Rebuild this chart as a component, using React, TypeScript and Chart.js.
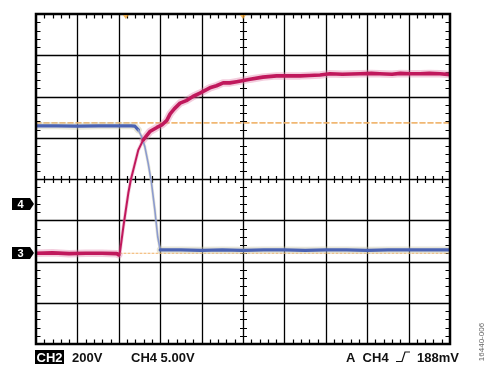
import React, { useEffect, useRef } from "react";
import { Chart, registerables } from "chart.js";
Chart.register(...registerables);

// Axis extents in scope divisions
const X_DIVS = 10;
const Y_DIVS = 8;
const MINOR_PER_DIV = 5;

// Red trace (CH3)
const redX = [0, 0.4, 0.8, 1.2, 1.6, 1.95, 2.0, 2.03, 2.11, 2.17, 2.23, 2.29, 2.37, 2.47, 2.59, 2.75, 2.92, 3.04, 3.16, 3.24, 3.34, 3.48, 3.63, 3.79, 3.96, 4.2, 4.36, 4.52, 4.68, 4.85, 5.17, 5.48, 5.81, 6.06, 6.38, 6.6, 6.86, 7.1, 7.4, 7.83, 8.1, 8.3, 8.6, 8.8, 9.05, 9.28, 9.5, 9.76, 10];
const redY = [2.2, 2.21, 2.19, 2.2, 2.2, 2.19, 2.16, 2.24, 2.84, 3.25, 3.66, 3.98, 4.3, 4.7, 4.95, 5.15, 5.25, 5.31, 5.42, 5.58, 5.7, 5.84, 5.9, 6.0, 6.08, 6.21, 6.26, 6.33, 6.33, 6.36, 6.42, 6.47, 6.5, 6.5, 6.5, 6.51, 6.52, 6.55, 6.54, 6.55, 6.56, 6.55, 6.54, 6.56, 6.55, 6.55, 6.56, 6.55, 6.53];

// Blue trace (CH4)
const blueX = [0, 0.5, 1.0, 1.5, 2.0, 2.3, 2.39, 2.47, 2.55, 2.63, 2.71, 2.79, 2.87, 2.94, 3.0, 3.5, 4.0, 4.5, 5.0, 5.5, 6.0, 6.5, 7.0, 7.5, 8.0, 8.5, 9.0, 9.5, 10];
const blueY = [5.29, 5.29, 5.28, 5.29, 5.29, 5.29, 5.28, 5.19, 5.03, 4.78, 4.38, 3.9, 3.25, 2.6, 2.28, 2.28, 2.27, 2.28, 2.27, 2.28, 2.28, 2.27, 2.28, 2.28, 2.27, 2.28, 2.28, 2.28, 2.28];

// Reference (cursor) levels
const refUpperY = 5.36;
const refLowerY = 2.2;

// Channel ground markers on the left
const markerLabels = ["4", "3"];
const markerY = [3.39, 2.2];

// Trigger position markers at top
const triggerX = [2.17, 5.0];

// Footer texts
const footerCh = "CH2";
const footerCh2Scale = "200V";
const footerCh4Scale = "CH4 5.00V";
const footerTrigA = "A  CH4";
const footerTrigLevel = "188mV";
const figureId = "16440-006";

const toPts = (xs: number[], ys: number[]) => xs.map((x, i) => ({ x, y: ys[i] }));
const steep = (ctx: any) => {
  const dx = Math.abs(ctx.p1.parsed.x - ctx.p0.parsed.x);
  const dy = Math.abs(ctx.p1.parsed.y - ctx.p0.parsed.y);
  return dx === 0 || dy / dx > 2;
};

const scopePlugin = {
  id: "scope",
  beforeDatasetsDraw(chart: any) {
    const { ctx, scales } = chart;
    const xs = scales.x, ys = scales.y;
    const L = xs.getPixelForValue(0), R = xs.getPixelForValue(X_DIVS);
    const T = ys.getPixelForValue(Y_DIVS), B = ys.getPixelForValue(0);
    ctx.save();
    ctx.strokeStyle = "#000";
    ctx.lineWidth = 1.3;
    ctx.beginPath();
    for (let i = 1; i < X_DIVS; i++) {
      const p = Math.round(xs.getPixelForValue(i)) + 0.5;
      ctx.moveTo(p, T); ctx.lineTo(p, B);
    }
    for (let j = 1; j < Y_DIVS; j++) {
      const p = Math.round(ys.getPixelForValue(j)) + 0.5;
      ctx.moveTo(L, p); ctx.lineTo(R, p);
    }
    ctx.stroke();
    // minor ticks
    ctx.lineWidth = 1.2;
    ctx.beginPath();
    const tl = 4.5;
    const cx = Math.round(xs.getPixelForValue(X_DIVS / 2)) + 0.5;
    const cy = Math.round(ys.getPixelForValue(Y_DIVS / 2)) + 0.5;
    for (let k = 1; k < X_DIVS * MINOR_PER_DIV; k++) {
      if (k % MINOR_PER_DIV === 0) continue;
      const p = Math.round(xs.getPixelForValue(k / MINOR_PER_DIV)) + 0.5;
      ctx.moveTo(p, T); ctx.lineTo(p, T + tl);
      ctx.moveTo(p, B); ctx.lineTo(p, B - tl);
      ctx.moveTo(p, cy - 3.5); ctx.lineTo(p, cy + 3.5);
    }
    for (let k = 1; k < Y_DIVS * MINOR_PER_DIV; k++) {
      if (k % MINOR_PER_DIV === 0) continue;
      const p = Math.round(ys.getPixelForValue(k / MINOR_PER_DIV)) + 0.5;
      ctx.moveTo(L, p); ctx.lineTo(L + tl, p);
      ctx.moveTo(R, p); ctx.lineTo(R - tl, p);
      ctx.moveTo(cx - 3.5, p); ctx.lineTo(cx + 3.5, p);
    }
    ctx.stroke();
    ctx.restore();
  },
  afterDatasetsDraw(chart: any) {
    const { ctx, scales } = chart;
    const xs = scales.x, ys = scales.y;
    const L = xs.getPixelForValue(0), R = xs.getPixelForValue(X_DIVS);
    const T = ys.getPixelForValue(Y_DIVS), B = ys.getPixelForValue(0);
    ctx.save();
    // border
    ctx.strokeStyle = "#000";
    ctx.lineWidth = 2.5;
    ctx.strokeRect(L, T, R - L, B - T);
    // trigger markers
    ctx.fillStyle = "rgba(240,160,40,0.75)";
    triggerX.forEach((v) => {
      const p = xs.getPixelForValue(v);
      ctx.beginPath();
      ctx.moveTo(p - 3, T + 1);
      ctx.lineTo(p + 3, T + 1);
      ctx.lineTo(p, T + 5);
      ctx.closePath();
      ctx.fill();
    });
    // channel markers
    markerLabels.forEach((lab, i) => {
      const p = Math.round(ys.getPixelForValue(markerY[i]));
      ctx.fillStyle = "#000";
      ctx.beginPath();
      ctx.moveTo(12, p - 6);
      ctx.lineTo(30, p - 6);
      ctx.lineTo(34, p);
      ctx.lineTo(30, p + 6);
      ctx.lineTo(12, p + 6);
      ctx.closePath();
      ctx.fill();
      ctx.fillStyle = "#fff";
      ctx.font = "bold 11px 'Liberation Sans', Arial, sans-serif";
      ctx.textAlign = "center";
      ctx.textBaseline = "middle";
      ctx.fillText(lab, 20.5, p + 0.5);
    });
    // footer
    const by = 362;
    ctx.font = "bold 13px 'Liberation Sans', Arial, sans-serif";
    ctx.textBaseline = "alphabetic";
    ctx.textAlign = "left";
    const w = ctx.measureText(footerCh).width;
    ctx.fillStyle = "#000";
    ctx.fillRect(35, 350, w + 3, 14);
    ctx.fillStyle = "#fff";
    ctx.fillText(footerCh, 36.5, by);
    ctx.fillStyle = "#111";
    ctx.fillText(footerCh2Scale, 72, by);
    ctx.fillText(footerCh4Scale, 131, by);
    ctx.fillText(footerTrigA, 346, by);
    ctx.textAlign = "right";
    ctx.fillText(footerTrigLevel, 459, by);
    // rising edge symbol
    ctx.strokeStyle = "#111";
    ctx.lineWidth = 1.2;
    ctx.beginPath();
    ctx.moveTo(396, by - 0.5);
    ctx.lineTo(402, by - 0.5);
    ctx.lineTo(405, by - 10);
    ctx.lineTo(410, by - 10);
    ctx.stroke();
    // figure id
    ctx.save();
    ctx.translate(484, 342);
    ctx.rotate(-Math.PI / 2);
    ctx.fillStyle = "#666";
    ctx.font = "8px 'Liberation Sans', Arial, sans-serif";
    ctx.textAlign = "center";
    ctx.textBaseline = "alphabetic";
    ctx.fillText(figureId, 0, 0);
    ctx.restore();
    ctx.restore();
  },
};

const bgPlugin = {
  id: "bg",
  beforeDraw(chart: any) {
    const { ctx, width, height } = chart;
    ctx.save();
    ctx.fillStyle = "#fff";
    ctx.fillRect(0, 0, width, height);
    ctx.restore();
  },
};

export default function App() {
  const ref = useRef<HTMLCanvasElement>(null);
  useEffect(() => {
    if (!ref.current) return;
    const red = toPts(redX, redY);
    const blue = toPts(blueX, blueY);
    const chart = new Chart(ref.current, {
      type: "line",
      data: {
        datasets: [
          {
            data: [{ x: 0, y: refUpperY }, { x: X_DIVS, y: refUpperY }],
            borderColor: "rgba(238,175,100,0.9)",
            borderWidth: 1.6,
            borderDash: [5, 3],
            pointRadius: 0,
            order: 20,
          },
          {
            data: [{ x: 0, y: refLowerY }, { x: X_DIVS, y: refLowerY }],
            borderColor: "rgba(238,165,80,0.9)",
            borderWidth: 1,
            borderDash: [2, 2],
            pointRadius: 0,
            order: 19,
          },
          {
            data: blue,
            borderColor: "rgba(200,198,170,0.45)",
            borderWidth: 7,
            segment: { borderWidth: (c: any) => (steep(c) ? 3 : 7) },
            pointRadius: 0,
            order: 15,
          },
          {
            data: red,
            borderColor: "rgba(225,130,170,0.4)",
            borderWidth: 7,
            segment: { borderWidth: (c: any) => (steep(c) ? 3.5 : 7.5) },
            pointRadius: 0,
            order: 14,
          },
          {
            data: blue,
            borderColor: "#4a62b3",
            borderWidth: 3.2,
            segment: {
              borderWidth: (c: any) => (steep(c) ? 1.6 : 3.2),
              borderColor: (c: any) => (steep(c) ? "#8c9bcf" : "#4a62b3"),
            },
            pointRadius: 0,
            order: 12,
          },
          {
            data: red,
            borderColor: "#c0185c",
            borderWidth: 3.6,
            segment: { borderWidth: (c: any) => (steep(c) ? 2 : 3.6) },
            pointRadius: 0,
            order: 10,
          },
        ],
      },
      options: {
        animation: false,
        responsive: false,
        maintainAspectRatio: false,
        devicePixelRatio: 1,
        layout: { padding: { left: 36, right: 38, top: 14, bottom: 26 } },
        plugins: { legend: { display: false }, tooltip: { enabled: false } },
        elements: { line: { tension: 0, borderJoinStyle: "round", borderCapStyle: "round" } },
        scales: {
          x: { type: "linear", min: 0, max: X_DIVS, display: false },
          y: { type: "linear", min: 0, max: Y_DIVS, display: false },
        },
      },
      plugins: [bgPlugin, scopePlugin],
    });
    return () => chart.destroy();
  }, []);
  return (
    <div style={{ position: "absolute", left: 0, top: 0, width: 488, height: 370, background: "#fff" }}>
      <canvas ref={ref} width={488} height={370} style={{ display: "block" }} />
    </div>
  );
}
